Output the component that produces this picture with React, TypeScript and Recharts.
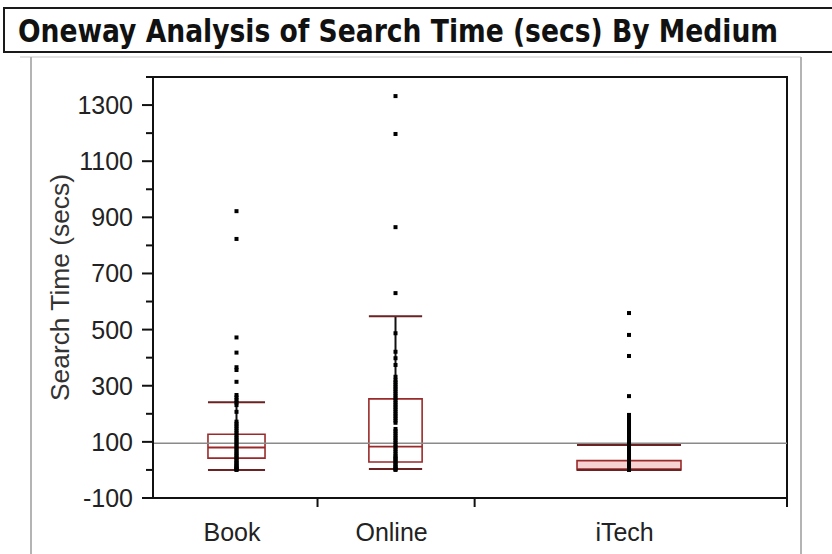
import React from 'react';
import {
  ComposedChart,
  Scatter,
  XAxis,
  YAxis,
  ReferenceLine,
  ReferenceArea,
} from 'recharts';

// ---- data ----
const mediums = ['Book', 'Online', 'iTech'];

// individual search times (secs) per medium
const bookTimes = [
  922, 823, 472, 418, 366, 356, 314, 267, 258, 249, 240, 231, 207, 172, 164, 156,
  148, 140, 132, 124, 116, 109, 102, 95, 88, 81, 74, 67, 60, 54, 48, 42, 36, 30,
  25, 20, 15, 11, 7, 4, 2, 0,
];
const onlineTimes = [
  1332, 1197, 865, 630, 487, 421, 398, 374, 332, 320, 312, 304, 296, 288, 280, 272,
  264, 256, 248, 240, 232, 224, 216, 208, 200, 192, 184, 176, 168, 146, 138, 130,
  122, 114, 106, 98, 90, 82, 74, 66, 58, 50, 44, 40, 34, 28, 22, 16, 11, 6, 3, 0,
];
const itechTimes = [
  559, 481, 406, 263, 196, 188, 180, 172, 164, 156, 148, 140, 132, 124, 116, 108,
  100, 92, 84, 76, 68, 60, 52, 44, 36, 28, 21, 15, 10, 6, 3, 0,
];

// quantile summaries per medium (10%, 25%, 50%, 75%, 90%)
const p10 = [0, 3, 0];
const q1 = [42, 28, 0];
const median = [80, 83, 3];
const q3 = [127, 253, 33];
const p90 = [241, 548, 89];
const grandMean = 95;

const yTicks = [-100, 0, 100, 200, 300, 400, 500, 600, 700, 800, 900, 1000, 1100, 1200, 1300, 1400];
const yLabeled = [-100, 100, 300, 500, 700, 900, 1100, 1300];

// ---- layout ----
const W = 832;
const H = 554;
const AXIS_W = 153;
const AXIS_H = 56;
const MARGIN = { top: 77, right: 45, bottom: 0, left: 0 };
// horizontal placement of each group on a 0..1 axis
const groupCenter = [0.1317, 0.3825, 0.7508];
const boxHalf = [0.045, 0.042, 0.082];
const labelAt = [0.1246, 0.3763, 0.7438];
const dividerAt = [0.2595, 0.5073, 1];

const FONT = '"Liberation Sans", Arial, Helvetica, sans-serif';
const BOX_RED = '#9a2a2a';
const CAP_RED = '#6a2222';

const groupTimes = [bookTimes, onlineTimes, itechTimes];
const groupPoints = groupTimes.map((times, g) =>
  times.map((t) => ({ x: groupCenter[g], y: t }))
);

const SquareDot = (props: any) => {
  const { cx, cy } = props;
  if (cx == null || cy == null) return null;
  return <rect x={cx - 2} y={cy - 2} width={4} height={4} fill="#000" />;
};

const YTick = (props: any) => {
  const { x, y, payload } = props;
  const v = payload.value;
  const labeled = yLabeled.includes(v);
  return (
    <g>
      <line x1={x - (labeled ? 11 : 7)} x2={x} y1={y} y2={y} stroke="#111" strokeWidth={2} />
      {labeled && (
        <text x={x - 20} y={y + 9} textAnchor="end" fontSize={25} fill="#222" fontFamily={FONT}>
          {v}
        </text>
      )}
    </g>
  );
};

const XTick = (props: any) => {
  const { x, y, payload } = props;
  const v = payload.value;
  const li = labelAt.indexOf(v);
  if (li >= 0) {
    return (
      <text x={x} y={y + 43} textAnchor="middle" fontSize={25} fill="#222" fontFamily={FONT}>
        {mediums[li]}
      </text>
    );
  }
  return <line x1={x} x2={x} y1={y} y2={y + 9} stroke="#111" strokeWidth={2} />;
};

const YLabel = (props: any) => {
  const vb = props.viewBox || {};
  const cx = 60;
  const cy = (vb.y ?? MARGIN.top) + (vb.height ?? 421) / 2;
  return (
    <text
      x={cx}
      y={cy}
      transform={`rotate(-90 ${cx} ${cy})`}
      textAnchor="middle"
      dominantBaseline="central"
      fontSize={25}
      fill="#333"
      fontFamily={FONT}
      textLength={227}
      lengthAdjust="spacingAndGlyphs"
    >
      Search Time (secs)
    </text>
  );
};

export default function App() {
  return (
    <div style={{ position: 'absolute', left: 0, top: 0, width: W, height: H, background: '#fff', overflow: 'hidden' }}>
      <svg width={W} height={H} style={{ position: 'absolute', left: 0, top: 0 }}>
        {/* report outline frame */}
        <line x1={20} x2={801} y1={57} y2={57} stroke="#c4c4c4" strokeWidth={1.2} />
        <line x1={31} x2={31} y1={57} y2={H} stroke="#b4b4b4" strokeWidth={2} />
        <line x1={801} x2={801} y1={57} y2={H} stroke="#b4b4b4" strokeWidth={2} />
        {/* title bar */}
        <rect x={4} y={8} width={860} height={44} fill="#fff" stroke="#1a1a1a" strokeWidth={2} />
        <g transform="translate(18 42) scale(1 1.14)">
          <text
            x={0}
            y={0}
            fontSize={28}
            fontWeight="bold"
            fill="#111"
            fontFamily='"Liberation Sans Narrow", "DejaVu Sans Condensed", "Liberation Sans", Arial, sans-serif'
            textLength={760}
            lengthAdjust="spacingAndGlyphs"
          >
            Oneway Analysis of Search Time (secs) By Medium
          </text>
        </g>
      </svg>
      <div style={{ position: 'absolute', left: 0, top: 0 }}>
        <ComposedChart width={W} height={H} margin={MARGIN}>
          <XAxis
            type="number"
            dataKey="x"
            domain={[0, 1]}
            ticks={[...labelAt, ...dividerAt]}
            interval={0}
            tick={<XTick />}
            tickLine={false}
            tickSize={0}
            tickMargin={0}
            height={AXIS_H}
            axisLine={{ stroke: '#111', strokeWidth: 2 }}
            allowDataOverflow
          />
          <YAxis
            type="number"
            dataKey="y"
            domain={[-100, 1400]}
            ticks={yTicks}
            interval={0}
            tick={<YTick />}
            tickLine={false}
            tickSize={0}
            tickMargin={0}
            width={AXIS_W}
            axisLine={{ stroke: '#111', strokeWidth: 2 }}
            label={<YLabel />}
            allowDataOverflow
          />
          {/* plot frame */}
          <ReferenceArea x1={0} x2={1} y1={-100} y2={1400} fill="none" stroke="#111" strokeWidth={2} />
          {/* grand mean */}
          <ReferenceLine y={grandMean} stroke="#8a8a8a" strokeWidth={1.6} />
          {mediums.map((m, g) => {
            const a = groupCenter[g] - boxHalf[g];
            const b = groupCenter[g] + boxHalf[g];
            const c = groupCenter[g];
            return (
              <React.Fragment key={m}>
                <ReferenceArea
                  x1={a}
                  x2={b}
                  y1={q1[g]}
                  y2={q3[g]}
                  fill={g === 2 ? '#f6d2d2' : 'none'}
                  fillOpacity={1}
                  stroke={BOX_RED}
                  strokeWidth={1.6}
                />
                <ReferenceLine segment={[{ x: c, y: q3[g] }, { x: c, y: p90[g] }]} stroke="#111" strokeWidth={2} />
                <ReferenceLine segment={[{ x: c, y: q1[g] }, { x: c, y: p10[g] }]} stroke="#111" strokeWidth={2} />
                <ReferenceLine segment={[{ x: a, y: median[g] }, { x: b, y: median[g] }]} stroke={BOX_RED} strokeWidth={1.8} />
                <ReferenceLine segment={[{ x: a, y: p90[g] }, { x: b, y: p90[g] }]} stroke={CAP_RED} strokeWidth={2} />
                <ReferenceLine segment={[{ x: a, y: p10[g] }, { x: b, y: p10[g] }]} stroke={CAP_RED} strokeWidth={2} />
              </React.Fragment>
            );
          })}
          {groupPoints.map((pts, g) => (
            <Scatter key={mediums[g]} name={mediums[g]} data={pts} shape={<SquareDot />} isAnimationActive={false} />
          ))}
        </ComposedChart>
      </div>
    </div>
  );
}
